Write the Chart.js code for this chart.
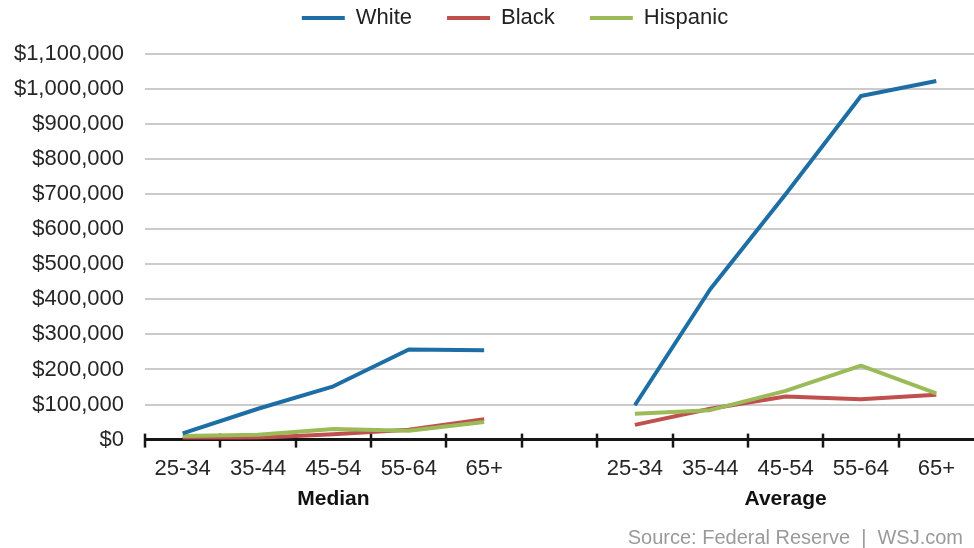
<!DOCTYPE html>
<html><head><meta charset="utf-8">
<script src="https://cdn.jsdelivr.net/npm/chart.js@4"></script>
<style>html,body{margin:0;padding:0;background:#fff}#wrap{width:974px;height:548px;position:relative}</style>
</head><body><div id="wrap"><canvas id="c"></canvas></div>
<script>
const categories = ['25-34','35-44','45-54','55-64','65+','','25-34','35-44','45-54','55-64','65+'];
const groupLabels = ['','','Median','','','','','','Average','',''];
const seriesNames = ['White','Black','Hispanic'];
const white    = [18000, 88000, 152000, 257000, 255000, null, 98000, 429000, 700000, 980000, 1023000];
const black    = [3000, 5000, 15000, 28000, 58000, null, 42000, 88000, 123000, 115000, 128000];
const hispanic = [10000, 14000, 30000, 25000, 50000, null, 74000, 84000, 139000, 211000, 132000];
const yMax = 1100000;
const yStep = 100000;
const sourceText = 'Source: Federal Reserve  |  WSJ.com';

const FONT = '"Liberation Sans", Arial, Helvetica, sans-serif';
Chart.defaults.font.family = FONT;

const fmt = v => '$' + String(v).replace(/\B(?=(\d{3})+(?!\d))/g, ',');

const axisDecor = {
  id: 'axisDecor',
  beforeDatasetsDraw(chart) {
    const x = chart.scales.x, y = chart.scales.y, ctx = chart.ctx;
    const y0 = y.getPixelForValue(0);
    const w = x.getPixelForValue(1) - x.getPixelForValue(0);
    ctx.save();
    ctx.strokeStyle = '#161616';
    ctx.lineWidth = 2.5;
    for (let i = 0; i < categories.length; i++) {
      const px = Math.round(x.getPixelForValue(i) - w / 2);
      ctx.beginPath(); ctx.moveTo(px, y0 - 6); ctx.lineTo(px, y0 + 8); ctx.stroke();
    }
    ctx.restore();
  },
  afterDraw(chart) {
    const x = chart.scales.x, ctx = chart.ctx;
    ctx.save();
    ctx.textAlign = 'center';
    ctx.textBaseline = 'middle';
    ctx.font = 'bold 21px ' + FONT;
    ctx.fillStyle = '#111';
    groupLabels.forEach((g, i) => {
      if (g) ctx.fillText(g, x.getPixelForValue(i), x.top + 60);
    });
    ctx.font = '20px ' + FONT;
    ctx.fillStyle = '#9a9a9a';
    ctx.textAlign = 'right';
    ctx.fillText(sourceText, chart.width - 11, 538);
    ctx.restore();
  }
};

new Chart(document.getElementById('c'), {
  type: 'line',
  data: {
    labels: categories,
    datasets: [
      { label: seriesNames[0], data: white, xAxisID: 'x', yAxisID: 'y', borderColor: '#1e6ea6', backgroundColor: '#1e6ea6', order: 0 },
      { label: seriesNames[1], data: black, xAxisID: 'x', yAxisID: 'y', borderColor: '#c0504d', backgroundColor: '#c0504d', order: 2 },
      { label: seriesNames[2], data: hispanic, xAxisID: 'x', yAxisID: 'y', borderColor: '#9bbb59', backgroundColor: '#9bbb59', order: 1 }
    ]
  },
  options: {
    responsive: true,
    maintainAspectRatio: false,
    animation: false,
    spanGaps: false,
    elements: {
      line: { borderWidth: 4, tension: 0, borderCapStyle: 'butt', borderJoinStyle: 'round' },
      point: { radius: 0, hoverRadius: 0 }
    },
    layout: { padding: { top: -28, left: 10, right: -46, bottom: 50 } },
    plugins: {
      legend: {
        position: 'top',
        labels: {
          boxWidth: 43, boxHeight: 4, padding: 35,
          font: { size: 22 }, color: '#222',
          generateLabels(chart) {
            return chart.data.datasets.map((ds, i) => ({
              text: ds.label, fillStyle: ds.borderColor, strokeStyle: ds.borderColor,
              lineWidth: 0, hidden: !chart.isDatasetVisible(i), datasetIndex: i, fontColor: '#222'
            }));
          }
        }
      },
      tooltip: { enabled: false }
    },
    scales: {
      x: {
        type: 'category', position: 'bottom', offset: true,
        grid: { display: false, drawTicks: false, offset: true },
        border: { display: true, color: '#161616', width: 3 },
        ticks: { autoSkip: false, maxRotation: 0, padding: 16, font: { size: 22 }, color: '#262626' }
      },
      xt: {
        type: 'category', position: 'top', display: true,
        grid: { display: false, drawTicks: false }, border: { display: false },
        ticks: { display: false },
        afterFit(s) { s.height = 15; }
      },
      y: {
        min: 0, max: yMax,
        grid: {
          color: c => (c.tick && c.tick.value === 0) ? 'rgba(0,0,0,0)' : '#cbcbcb',
          lineWidth: 2, drawTicks: false
        },
        border: { display: false },
        ticks: { stepSize: yStep, padding: 21, font: { size: 22 }, color: '#262626', callback: v => fmt(v) },
        afterFit(s) { s.width = 135; }
      },
      yr: {
        type: 'linear', position: 'right', display: true,
        grid: { display: false, drawTicks: false }, border: { display: false },
        ticks: { display: false },
        afterFit(s) { s.width = 46; }
      }
    }
  },
  plugins: [axisDecor]
});
</script>
</body></html>
